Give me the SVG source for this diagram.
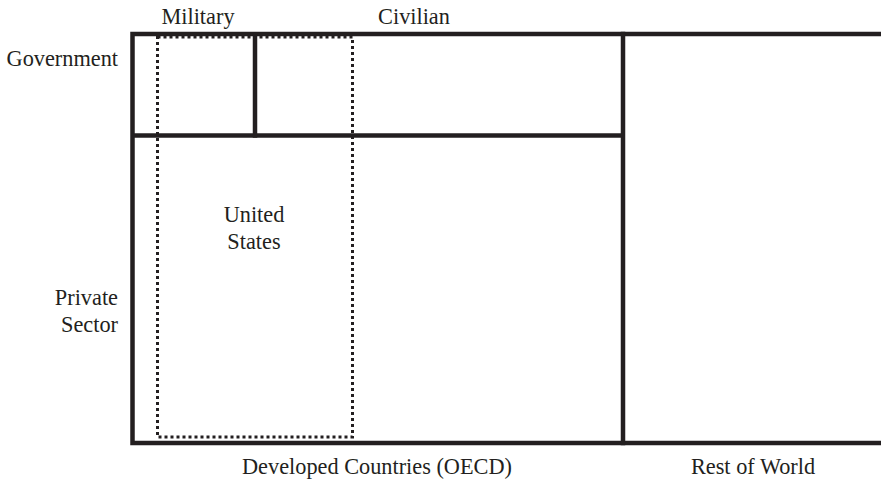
<svg xmlns="http://www.w3.org/2000/svg" width="881" height="479" viewBox="0 0 881 479">
<style>
text{font-family:'Liberation Serif','Times New Roman',Times,serif;font-size:22.3px;fill:#231f20}
.b{stroke:#231f20;stroke-width:4.5;fill:none}
.d{stroke:#231f20;stroke-width:3;fill:none;stroke-dasharray:3 3}
</style>
<rect width="881" height="479" fill="#fff"/>
<g id="frame">
<path class="b" d="M881,34 H132.5 V443 H881"/>
<path class="b" d="M623,31.8 V445.2"/>
</g>
<g id="government-row">
<path class="b" d="M132.5,135.5 H623"/>
<path class="b" d="M255,34 V137.7"/>
</g>
<g id="united-states">
<rect class="d" x="157.5" y="37" width="195" height="400"/>
<text x="254" y="222" text-anchor="middle">United</text>
<text x="254" y="249" text-anchor="middle">States</text>
</g>
<g id="labels">
<text x="198" y="24" text-anchor="middle">Military</text>
<text x="414" y="24" text-anchor="middle">Civilian</text>
<text x="118" y="66" text-anchor="end">Government</text>
<text x="118" y="305" text-anchor="end">Private</text>
<text x="118" y="332" text-anchor="end">Sector</text>
<text x="377" y="474" text-anchor="middle">Developed Countries (OECD)</text>
<text x="753" y="474" text-anchor="middle">Rest of World</text>
</g>
</svg>
